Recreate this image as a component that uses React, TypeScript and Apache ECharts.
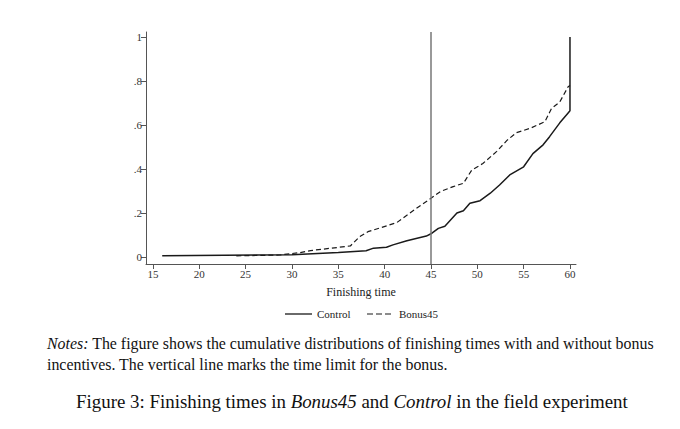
import React, { useEffect, useRef } from "react";
import * as echarts from "echarts";

const xTicks = [15, 20, 25, 30, 35, 40, 45, 50, 55, 60];
const yTicks = [0, 0.2, 0.4, 0.6, 0.8, 1];
const timeLimit = 45;

const controlTimes = [16, 30, 35, 38, 38.8, 40.2, 40.9, 42.4, 44.5, 45.1, 45.8, 46.5, 47.8, 48.5, 49.2, 50.3, 51.4, 52.4, 53.5, 55, 56, 57.1, 57.8, 58.9, 59.8, 60, 60];
const controlValues = [0.006, 0.01, 0.02, 0.028, 0.04, 0.044, 0.055, 0.074, 0.095, 0.108, 0.13, 0.14, 0.2, 0.21, 0.244, 0.256, 0.29, 0.327, 0.373, 0.41, 0.47, 0.51, 0.547, 0.61, 0.655, 0.665, 1.0];

const bonusTimes = [24, 28.7, 30.9, 32, 36.3, 37.3, 38.2, 41.3, 42.4, 43.8, 45, 46, 47.4, 48.5, 49.4, 50.6, 52.1, 53.2, 54.2, 55.7, 57.3, 58, 58.9, 59.8, 60];
const bonusValues = [0.005, 0.009, 0.02, 0.029, 0.05, 0.092, 0.115, 0.156, 0.19, 0.232, 0.267, 0.297, 0.32, 0.335, 0.395, 0.425, 0.48, 0.53, 0.565, 0.585, 0.615, 0.675, 0.705, 0.774, 0.78];

const seriesNames = ["Control", "Bonus45"];
const xTitle = "Finishing time";
const notesLine1 = "{i|Notes:} The figure shows the cumulative distributions of finishing times with and without bonus";
const notesLine2 = "incentives. The vertical line marks the time limit for the bonus.";
const caption = "Figure 3: Finishing times in {i|Bonus45} and {i|Control} in the field experiment";

const SERIF = "'Liberation Serif', 'DejaVu Serif', serif";
const DASH = [5, 3];
const LEGEND_DASH = [6, 3];

function zip(xs: number[], ys: number[]) {
  return xs.map((x, i) => [x, ys[i]]);
}

export default function App() {
  const ref = useRef<HTMLDivElement>(null);
  useEffect(() => {
    if (!ref.current) return;
    const chart = echarts.init(ref.current, null, { renderer: "svg" });
    const axisColor = "#555";
    const lineColor = "#1a1a1a";
    chart.setOption({
      animation: false,
      backgroundColor: "#fff",
      grid: { left: 146, right: 104, top: 32, bottom: 165 },
      xAxis: {
        type: "value",
        min: 14.25,
        max: 60.65,
        name: xTitle,
        nameLocation: "middle",
        nameGap: 22,
        nameTextStyle: { fontFamily: SERIF, fontSize: 12, color: "#222" },
        axisLine: { show: true, onZero: false, lineStyle: { color: axisColor, width: 1 } },
        axisTick: { show: true, length: 5, customValues: xTicks, lineStyle: { color: axisColor } },
        axisLabel: { customValues: xTicks, fontFamily: SERIF, fontSize: 11, color: "#333", margin: 4 },
        splitLine: { show: false },
      },
      yAxis: {
        type: "value",
        min: -0.032,
        max: 1.023,
        axisLine: { show: true, onZero: false, lineStyle: { color: axisColor, width: 1 } },
        axisTick: { show: true, length: 5, customValues: yTicks, lineStyle: { color: axisColor } },
        axisLabel: {
          customValues: yTicks,
          fontFamily: SERIF,
          fontSize: 11,
          color: "#333",
          margin: 4,
          formatter: (v: number) => (v === 0 ? "0" : v === 1 ? "1" : String(Math.round(v * 10) / 10).replace(/^0/, "")),
        },
        splitLine: { show: false },
      },
      legend: { show: false },
      series: [
        {
          name: seriesNames[0],
          type: "line",
          data: zip(controlTimes, controlValues),
          symbol: "none",
          lineStyle: { color: lineColor, width: 1.5, type: "solid" },
          markLine: {
            silent: true,
            symbol: "none",
            label: { show: false },
            lineStyle: { color: "#777", width: 1.5, type: "solid" },
            data: [{ xAxis: timeLimit }],
          },
        },
        {
          name: seriesNames[1],
          type: "line",
          data: zip(bonusTimes, bonusValues),
          symbol: "none",
          lineStyle: { color: lineColor, width: 1.2, type: DASH },
        },
      ],
      graphic: [
        {
          type: "line",
          shape: { x1: 285, y1: 314, x2: 312, y2: 314 },
          style: { stroke: lineColor, lineWidth: 1.3 },
        },
        {
          type: "text",
          x: 317,
          y: 314,
          style: { text: seriesNames[0], fontFamily: SERIF, fontSize: 11, fill: "#222", verticalAlign: "middle" },
        },
        {
          type: "line",
          shape: { x1: 367, y1: 314, x2: 394, y2: 314 },
          style: { stroke: lineColor, lineWidth: 1.2, lineDash: LEGEND_DASH },
        },
        {
          type: "text",
          x: 399,
          y: 314,
          style: { text: seriesNames[1], fontFamily: SERIF, fontSize: 11, fill: "#222", verticalAlign: "middle" },
        },
        {
          type: "text",
          left: 47,
          top: 335,
          style: {
            text: notesLine1,
            fontFamily: SERIF,
            fontSize: 15.9,
            fill: "#111",
            rich: { i: { fontStyle: "italic", fontFamily: SERIF, fontSize: 15.9, fill: "#111" } },
          },
        },
        {
          type: "text",
          left: 47,
          top: 356,
          style: { text: notesLine2, fontFamily: SERIF, fontSize: 15.9, fill: "#111" },
        },
        {
          type: "text",
          left: 76,
          top: 392,
          style: {
            text: caption,
            fontFamily: SERIF,
            fontSize: 18.9,
            fill: "#111",
            rich: { i: { fontStyle: "italic", fontFamily: SERIF, fontSize: 18.9, fill: "#111" } },
          },
        },
      ],
    });
    return () => chart.dispose();
  }, []);
  return <div ref={ref} style={{ position: "absolute", left: 0, top: 0, width: 680, height: 429 }} />;
}
